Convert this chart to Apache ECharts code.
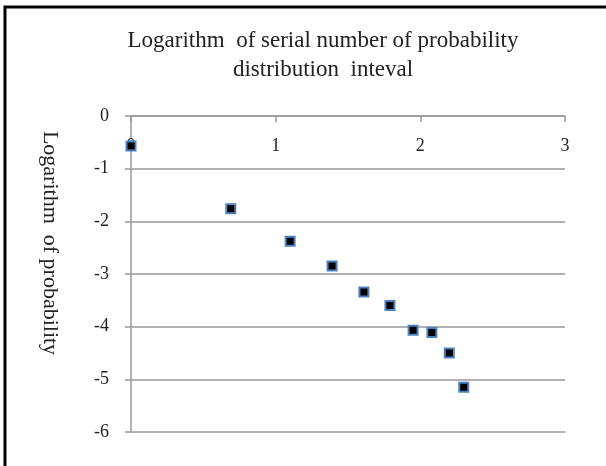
<!DOCTYPE html>
<html>
<head>
<meta charset="utf-8">
<script src="https://cdn.jsdelivr.net/npm/echarts@6/dist/echarts.min.js"></script>
<style>
  html, body { margin: 0; padding: 0; background: #fff; }
  #chart { width: 606px; height: 466px; }
</style>
</head>
<body>
<div id="chart"></div>
<script>
// data
const xValues = [0, 0.69, 1.10, 1.39, 1.61, 1.79, 1.95, 2.08, 2.20, 2.30];
const yValues = [-0.57, -1.76, -2.38, -2.85, -3.34, -3.60, -4.07, -4.11, -4.50, -5.15];
const xTicks = [0, 1, 2, 3];
const yTicks = [0, -1, -2, -3, -4, -5, -6];

const titleLines = ['Logarithm  of serial number of probability', 'distribution  inteval'];
const yName = 'Logarithm  of probability';

const points = xValues.map((x, i) => [x, yValues[i]]);
const font = '"Liberation Serif", "Times New Roman", serif';

const myChart = echarts.init(document.getElementById('chart'));
const option = {
  backgroundColor: '#fff',
  animation: false,
  title: {
    text: titleLines.join('\n'),
    left: 318,
    textAlign: 'center',
    top: 21,
    textStyle: {
      fontFamily: font,
      fontSize: 23,
      fontWeight: 'normal',
      color: '#222',
      lineHeight: 29,
    },
  },
  grid: {
    left: 131,
    right: 41,
    top: 116,
    bottom: 34,
  },
  xAxis: {
    type: 'value',
    position: 'top',
    min: xTicks[0],
    max: xTicks[xTicks.length - 1],
    interval: 1,
    axisLine: { onZero: false, lineStyle: { color: '#999', width: 1.5 } },
    axisTick: { show: true, inside: true, length: 6, lineStyle: { color: '#999', width: 1.5 } },
    axisLabel: {
      inside: true,
      margin: 21,
      fontFamily: font,
      fontSize: 18,
      color: '#222',
    },
    splitLine: { show: false },
  },
  yAxis: {
    type: 'value',
    min: yTicks[yTicks.length - 1],
    max: yTicks[0],
    interval: 1,
    axisLine: { show: true, lineStyle: { color: '#999', width: 1.5 } },
    axisTick: { show: true, length: 6, lineStyle: { color: '#999', width: 1.5 } },
    axisLabel: {
      margin: 22,
      fontFamily: font,
      fontSize: 18,
      color: '#222',
    },
    splitLine: { show: true, lineStyle: { color: '#999', width: 1.5 } },
  },
  graphic: [
    {
      type: 'text',
      x: 50,
      y: 243,
      rotation: -Math.PI / 2,
      style: {
        text: yName,
        fontFamily: font,
        fontSize: 22,
        fill: '#222',
        align: 'center',
        verticalAlign: 'middle',
      },
    },
    {
      type: 'rect',
      shape: { x: 5, y: 7, width: 800, height: 700 },
      style: { fill: 'none', stroke: '#000', lineWidth: 3 },
      silent: true,
    },
  ],
  series: [
    {
      type: 'scatter',
      data: points,
      symbol: 'rect',
      symbolSize: 9,
      itemStyle: {
        color: '#000',
        borderColor: '#4F81BD',
        borderWidth: 2,
        opacity: 1,
      },
    },
  ],
};

myChart.setOption(option);
</script>
</body>
</html>
